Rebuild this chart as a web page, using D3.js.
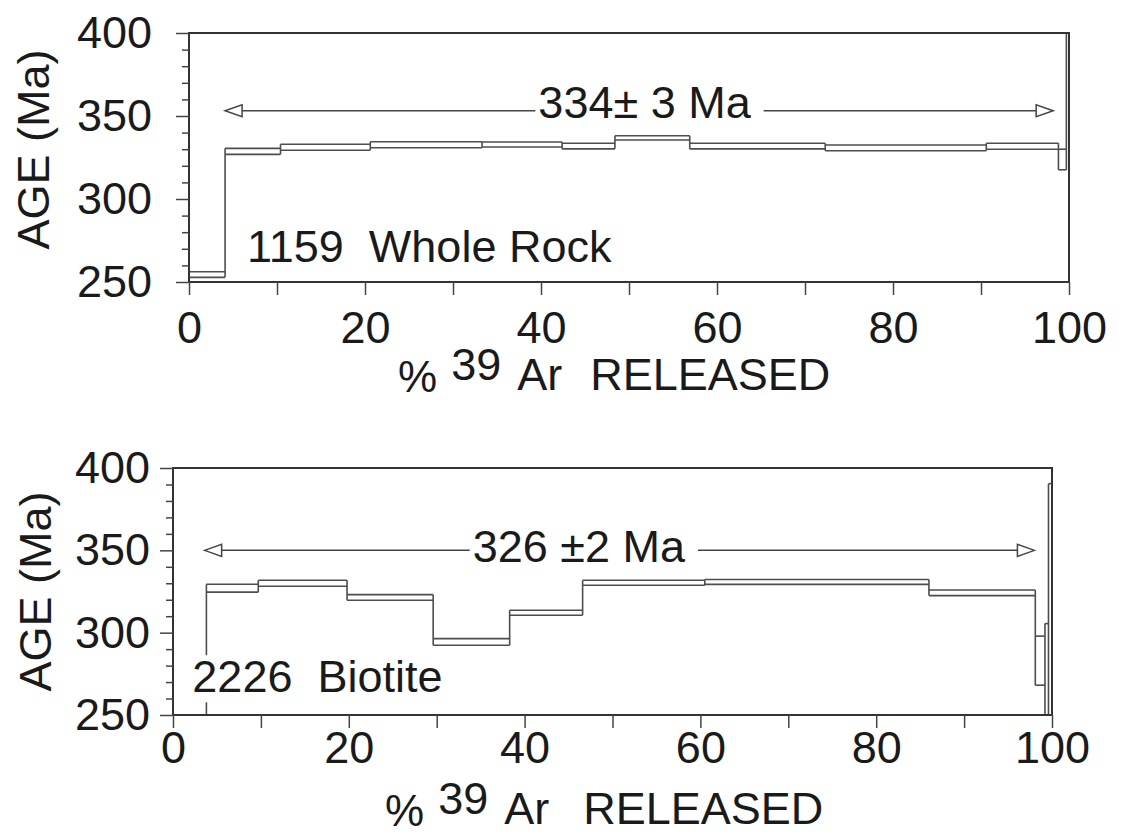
<!DOCTYPE html>
<html>
<head>
<meta charset="utf-8">
<script src="https://cdn.jsdelivr.net/npm/d3@7"></script>
<style>
  body { margin: 0; background: #fff; }
  svg text { font-family: "Liberation Sans", Arial, sans-serif; fill: #1a1a1a; }
  .pre { white-space: pre; }
</style>
</head>
<body>
<script>
// age spectra, cumulative % 39Ar at step edges + apparent age and 1 sigma
var wrEdges = [0, 4.1, 10.4, 20.6, 33.3, 42.4, 48.4, 56.9, 72.3, 90.6, 98.8, 99.7, 100];
var wrAges  = [254.5, 328.7, 331.2, 332.7, 332.8, 331.9, 336.8, 331.9, 330.8, 331.8, 323.8, 420];
var wrErr   = [1.7, 1.8, 1.8, 1.8, 1.5, 1.7, 1.3, 1.7, 1.7, 1.8, 6.2, 15];

var btEdges = [0, 3.8, 9.7, 19.8, 29.6, 38.3, 46.6, 60.5, 86.0, 98.1, 99.2, 99.6, 100];
var btAges  = [230, 327, 330, 321.4, 294.4, 312.1, 330.3, 330.8, 324.2, 283, 270, 300];
var btErr   = [5, 2.4, 1.8, 1.7, 2, 1.5, 1.5, 1.5, 1.7, 14.9, 35.5, 90.5];

var wrPlateau = [4.1, 98.2], wrPlateauAge = 353.2, wrText = "334\u00b1 3 Ma";
var btPlateau = [3.6, 98.0], btPlateauAge = 350, btText = "326 \u00b12 Ma";

var ageDomain = [250, 400];
var ageTicks = d3.range(250, 401, 10);
var pctTicks = d3.range(0, 101, 10);

var svg = d3.select("body").append("svg")
    .attr("width", 1131)
    .attr("height", 838);

var panels = [
  { id: "wr", edges: wrEdges, ages: wrAges, err: wrErr, plateau: wrPlateau, pAge: wrPlateauAge, pText: wrText,
    textAt: [39.7, 348.8], label: "1159  Whole Rock", labelAt: [6.6, 262.2],
    left: 189, right: 1069, top: 33, bottom: 282, yPad: 24, xPad: 16, titleY: 390, titleX: 398, gap: 28, ageX: 49, ageShift: -8 },
  { id: "bt", edges: btEdges, ages: btAges, err: btErr, plateau: btPlateau, pAge: btPlateauAge, pText: btText,
    textAt: [34.1, 342.7], label: "2226  Biotite", labelAt: [2.2, 263.8],
    left: 173, right: 1052, top: 468, bottom: 715, yPad: 10, xPad: 3, titleY: 824, titleX: 385, gap: 34, ageX: 51, ageShift: 0 }
];

panels.forEach(function(p) {
  var x = d3.scaleLinear().domain([0, 100]).range([p.left, p.right]);
  var y = d3.scaleLinear().domain(ageDomain).range([p.bottom, p.top]);

  var g = svg.append("g");

  g.append("clipPath").attr("id", "clip-" + p.id)
    .append("rect")
    .attr("x", p.left).attr("y", p.top)
    .attr("width", p.right - p.left).attr("height", p.bottom - p.top);

  // steps: top and bottom of each box
  var steps = p.ages.map(function(a, i) {
    return { x0: p.edges[i], x1: p.edges[i + 1], lo: a - p.err[i], hi: a + p.err[i] };
  });

  var sg = g.append("g").attr("clip-path", "url(#clip-" + p.id + ")")
    .attr("stroke", "#4d4d4d").attr("stroke-width", 1.6).attr("fill", "none");

  steps.forEach(function(s) {
    [s.lo, s.hi].forEach(function(v) {
      sg.append("line")
        .attr("x1", x(s.x0)).attr("x2", x(s.x1))
        .attr("y1", y(v)).attr("y2", y(v));
    });
  });

  // vertical risers at every edge
  p.edges.forEach(function(e, i) {
    var near = steps.slice(Math.max(0, i - 1), i + 1);
    var lo = d3.min(near, function(s) { return s.lo; });
    var hi = d3.max(near, function(s) { return s.hi; });
    sg.append("line")
      .attr("x1", x(e)).attr("x2", x(e))
      .attr("y1", y(lo)).attr("y2", y(hi));
  });

  // plateau arrow
  var ay = y(p.pAge);
  var xa = x(p.plateau[0]), xb = x(p.plateau[1]);
  var pt = g.append("text")
    .attr("class", "pre")
    .attr("x", x(p.textAt[0])).attr("y", y(p.textAt[1]))
    .attr("font-size", 45)
    .text(p.pText);
  var bb = pt.node().getBBox();

  g.append("line").attr("x1", xa + 17).attr("x2", bb.x - 3)
    .attr("y1", ay).attr("y2", ay).attr("stroke", "#444").attr("stroke-width", 1.5);
  g.append("line").attr("x1", bb.x + bb.width + 12).attr("x2", xb - 17)
    .attr("y1", ay).attr("y2", ay).attr("stroke", "#444").attr("stroke-width", 1.5);
  g.append("path")
    .attr("d", "M" + xa + "," + ay + "L" + (xa + 17) + "," + (ay - 6) + "L" + (xa + 17) + "," + (ay + 6) + "Z")
    .attr("fill", "#fff").attr("stroke", "#444").attr("stroke-width", 1.5);
  g.append("path")
    .attr("d", "M" + xb + "," + ay + "L" + (xb - 17) + "," + (ay - 6) + "L" + (xb - 17) + "," + (ay + 6) + "Z")
    .attr("fill", "#fff").attr("stroke", "#444").attr("stroke-width", 1.5);

  // sample label on white
  var lb = g.append("text")
    .attr("class", "pre")
    .attr("x", x(p.labelAt[0])).attr("y", y(p.labelAt[1]))
    .attr("font-size", 45)
    .text(p.label);
  var lbb = lb.node().getBBox();
  g.insert("rect", function() { return lb.node(); })
    .attr("x", lbb.x - 2).attr("y", lbb.y + 4)
    .attr("width", lbb.width + 4).attr("height", lbb.height - 4)
    .attr("fill", "#fff");

  // frame
  g.append("rect")
    .attr("x", p.left).attr("y", p.top)
    .attr("width", p.right - p.left).attr("height", p.bottom - p.top)
    .attr("fill", "none").attr("stroke", "#333").attr("stroke-width", 2);

  // axes
  var ya = g.append("g")
    .attr("transform", "translate(" + p.left + ",0)")
    .call(d3.axisLeft(y).tickValues(ageTicks).tickSize(13).tickPadding(p.yPad)
      .tickFormat(function(d) { return d % 50 === 0 ? d : ""; }));
  ya.select(".domain").remove();
  ya.selectAll(".tick line")
    .attr("stroke", "#444").attr("stroke-width", 1.5)
    .attr("x2", function(d) { return d % 50 === 0 ? -13 : -7; });
  ya.selectAll(".tick text")
    .attr("font-size", 45).attr("font-family", null).attr("fill", "#1a1a1a");

  var xaG = g.append("g")
    .attr("transform", "translate(0," + p.bottom + ")")
    .call(d3.axisBottom(x).tickValues(pctTicks).tickSize(13).tickPadding(p.xPad)
      .tickFormat(function(d) { return d % 20 === 0 ? d : ""; }));
  xaG.select(".domain").remove();
  xaG.selectAll(".tick line").attr("stroke", "#444").attr("stroke-width", 1.5);
  xaG.selectAll(".tick text")
    .attr("font-size", 45).attr("font-family", null).attr("fill", "#1a1a1a");

  // axis titles
  var cy = (p.top + p.bottom) / 2 + p.ageShift;
  g.append("text")
    .attr("transform", "translate(" + p.ageX + "," + cy + ") rotate(-90)")
    .attr("text-anchor", "middle")
    .attr("font-size", 45)
    .text("AGE (Ma)");

  var t = g.append("text")
    .attr("x", p.titleX).attr("y", p.titleY + 2)
    .attr("font-size", 44)
    .text("%");
  t.append("tspan").attr("font-size", 45).attr("dx", 14).attr("dy", -12).text("39");
  t.append("tspan").attr("font-size", 45).attr("dx", 16).attr("dy", 10).text("Ar");
  t.append("tspan").attr("font-size", 45).attr("dx", p.gap).text("RELEASED");
});
</script>
</body>
</html>
